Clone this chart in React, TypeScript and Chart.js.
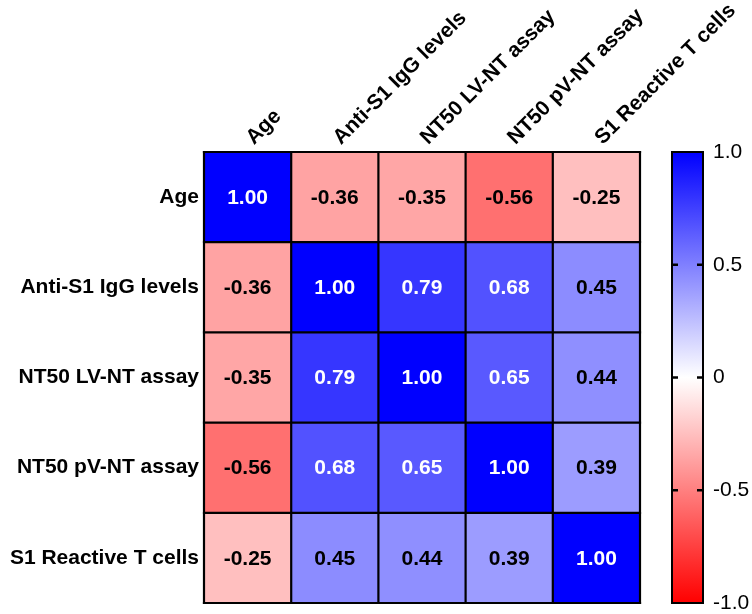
import React, { useEffect, useRef } from "react";
import { Chart, registerables } from "chart.js";

Chart.register(...registerables);

const columnLabels = ["Age", "Anti-S1 IgG levels", "NT50 LV-NT assay", "NT50 pV-NT assay", "S1 Reactive T cells"];
const rowLabels = ["Age", "Anti-S1 IgG levels", "NT50 LV-NT assay", "NT50 pV-NT assay", "S1 Reactive T cells"];

const ageRow = [1.0, -0.36, -0.35, -0.56, -0.25];
const antiS1Row = [-0.36, 1.0, 0.79, 0.68, 0.45];
const lvNtRow = [-0.35, 0.79, 1.0, 0.65, 0.44];
const pvNtRow = [-0.56, 0.68, 0.65, 1.0, 0.39];
const tCellsRow = [-0.25, 0.45, 0.44, 0.39, 1.0];
const matrixRows = [ageRow, antiS1Row, lvNtRow, pvNtRow, tCellsRow];

const colorBarTicks = [1, 0.5, 0, -0.5, -1];

const FONT = "'Liberation Sans', Arial, Helvetica, sans-serif";

function cellColor(v: number): string {
  if (v >= 0) {
    const c = Math.round(255 * (1 - v));
    return `rgb(${c},${c},255)`;
  }
  const c = Math.round(255 * (1 + v));
  return `rgb(255,${c},${c})`;
}

const gridLinesPlugin = {
  id: "gridLines",
  afterDatasetsDraw(chart: any) {
    const { ctx } = chart;
    const xs = chart.scales.x;
    const ys = chart.scales.y;
    ctx.save();
    ctx.strokeStyle = "#000";
    ctx.lineWidth = 2.2;
    const top = ys.getPixelForValue(0);
    const bottom = ys.getPixelForValue(rowLabels.length);
    const left = xs.getPixelForValue(-0.5);
    const right = xs.getPixelForValue(columnLabels.length - 0.5);
    for (let i = 0; i <= columnLabels.length; i++) {
      const x = xs.getPixelForValue(i - 0.5);
      ctx.beginPath();
      ctx.moveTo(x, top - 1.1);
      ctx.lineTo(x, bottom + 1.1);
      ctx.stroke();
    }
    for (let j = 0; j <= rowLabels.length; j++) {
      const y = ys.getPixelForValue(j);
      ctx.beginPath();
      ctx.moveTo(left - 1.1, y);
      ctx.lineTo(right + 1.1, y);
      ctx.stroke();
    }
    // cell values
    ctx.font = `bold 21px ${FONT}`;
    ctx.textAlign = "center";
    ctx.textBaseline = "middle";
    chart.data.datasets.forEach((ds: any, di: number) => {
      const meta = chart.getDatasetMeta(di);
      meta.data.forEach((bar: any, ci: number) => {
        const v = ds.corr[ci];
        const cx = bar.x;
        const cy = (bar.y + bar.base) / 2;
        ctx.fillStyle = v >= 0.6 ? "#fff" : "#000";
        ctx.fillText(v.toFixed(2), cx, cy + 1);
      });
    });
    ctx.restore();
  },
};

const colorBarPlugin = {
  id: "colorBar",
  afterDraw(chart: any) {
    const { ctx, chartArea } = chart;
    const cb = chart.scales.cb;
    const x0 = chartArea.right + 32;
    const x1 = chartArea.right + 63;
    const yTop = cb.getPixelForValue(1);
    const yBot = cb.getPixelForValue(-1);
    ctx.save();
    const g = ctx.createLinearGradient(0, yTop, 0, yBot);
    g.addColorStop(0, cellColor(1));
    g.addColorStop(0.5, cellColor(0));
    g.addColorStop(1, cellColor(-1));
    ctx.fillStyle = g;
    ctx.fillRect(x0, yTop, x1 - x0, yBot - yTop);
    ctx.strokeStyle = "#000";
    ctx.lineWidth = 2;
    ctx.strokeRect(x0, yTop, x1 - x0, yBot - yTop);
    ctx.lineWidth = 2.5;
    colorBarTicks.forEach((t) => {
      if (Math.abs(t) === 1) return;
      const y = cb.getPixelForValue(t);
      ctx.beginPath();
      ctx.moveTo(x0, y);
      ctx.lineTo(x0 + 6, y);
      ctx.moveTo(x1 - 6, y);
      ctx.lineTo(x1, y);
      ctx.stroke();
    });
    ctx.restore();
  },
};

export default function App() {
  const canvasRef = useRef<HTMLCanvasElement | null>(null);

  useEffect(() => {
    document.body.style.margin = "0";
    const canvas = canvasRef.current;
    if (!canvas) return;
    Chart.defaults.font.family = FONT;
    Chart.defaults.color = "#000";

    const datasets = matrixRows.map((row, ri) => ({
      label: rowLabels[ri],
      data: row.map(() => 1),
      corr: row,
      backgroundColor: row.map((v) => cellColor(v)),
      borderWidth: 0,
      barPercentage: 1,
      categoryPercentage: 1,
      stack: "cells",
    }));

    const chart = new Chart(canvas, {
      type: "bar",
      data: { labels: columnLabels, datasets: datasets as any },
      options: {
        responsive: false,
        animation: false,
        devicePixelRatio: 1,
        layout: { padding: { left: 0, top: 0, right: 0, bottom: 11 } },
        plugins: { legend: { display: false }, tooltip: { enabled: false } },
        scales: {
          x: {
            position: "top",
            stacked: true,
            offset: true,
            grid: { display: false, drawTicks: false },
            border: { display: false },
            ticks: {
              autoSkip: false,
              minRotation: 45,
              maxRotation: 45,
              padding: 2,
              labelOffset: 20,
              color: "#000",
              font: { size: 21, weight: "bold", family: FONT },
            },
            afterFit(scale: any) {
              scale.height = 152;
            },
          },
          y: {
            type: "linear",
            position: "left",
            stacked: true,
            reverse: true,
            min: 0,
            max: rowLabels.length,
            grid: { display: false, drawTicks: false },
            border: { display: false },
            afterBuildTicks(axis: any) {
              axis.ticks = rowLabels.map((_, i) => ({ value: i + 0.5 }));
            },
            ticks: {
              padding: 5,
              color: "#000",
              font: { size: 21, weight: "bold", family: FONT },
              callback: (v: any) => rowLabels[Math.floor(Number(v))],
            },
            afterFit(scale: any) {
              scale.width = 204;
              scale.paddingTop = 0;
              scale.paddingBottom = 0;
            },
          },
          cb: {
            type: "linear",
            position: "right",
            min: -1,
            max: 1,
            grid: {
              display: true,
              drawOnChartArea: false,
              drawTicks: true,
              tickLength: 72,
              tickColor: "rgba(0,0,0,0)",
            },
            border: { display: false },
            afterBuildTicks(axis: any) {
              axis.ticks = colorBarTicks.map((v) => ({ value: v }));
            },
            ticks: {
              padding: 1,
              color: "#000",
              font: { size: 21, family: FONT },
              callback: (v: any) => (Number(v) === 0 ? "0" : Number(v).toFixed(1)),
            },
            afterFit(scale: any) {
              scale.width = 112;
              scale.paddingTop = 0;
              scale.paddingBottom = 0;
            },
          },
        },
      } as any,
      plugins: [gridLinesPlugin, colorBarPlugin],
    });
    return () => chart.destroy();
  }, []);

  return (
    <div style={{ width: 752, height: 614, background: "#fff" }}>
      <canvas ref={canvasRef} width={752} height={614} />
    </div>
  );
}
